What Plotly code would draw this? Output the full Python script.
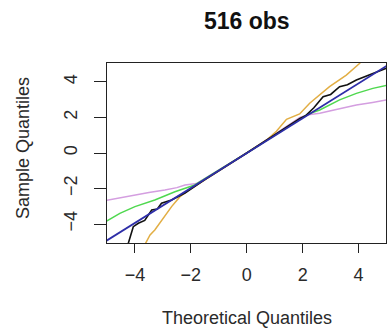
import plotly.graph_objects as go

# QQ-plot curves (theoretical, sample)
violet_x = [-5.2, -4.5, -4.0, -3.5, -2.93, -2.5, -2.21, -1.8, 0, 1.9, 2.2, 2.61, 3.2, 3.92, 4.5, 5.1]
violet_y = [-2.72, -2.5, -2.37, -2.22, -2.08, -1.95, -1.80, -1.72, 0, 2.0, 2.15, 2.24, 2.45, 2.70, 2.85, 3.02]

green_x = [-5.1, -4.54, -4.0, -3.29, -2.57, -1.86, 0, 2.2, 2.61, 3.32, 3.92, 4.51, 5.1]
green_y = [-3.92, -3.40, -3.02, -2.65, -2.18, -1.80, 0, 2.2, 2.42, 2.99, 3.36, 3.64, 3.85]

orange_x = [-3.66, -3.46, -3.29, -3.11, -2.87, -2.69, -2.39, -2.1, 0, 0.7, 1.06, 1.42, 1.89, 2.25, 2.96, 3.56, 4.04, 4.1]
orange_y = [-5.2, -4.62, -4.34, -3.96, -3.40, -3.02, -2.46, -2.12, 0, 0.72, 1.22, 1.9, 2.2, 2.80, 3.74, 4.39, 5.05, 5.2]

black_x = [-4.26, -4.06, -3.88, -3.65, -3.4, -3.2, -3.05, -2.69, -2.21, -1.5, 0, 1.5, 1.9, 2.1, 2.4, 2.73, 3.0, 3.32, 3.6, 3.92, 4.51, 5.0]
black_y = [-5.2, -4.15, -3.96, -3.80, -3.21, -3.15, -2.83, -2.65, -2.25, -1.5, 0, 1.5, 1.95, 2.1, 2.55, 3.17, 3.3, 3.74, 3.85, 4.11, 4.49, 4.78]

blue_x = [-5.2, 5.2]
blue_y = [-5.12, 5.1]

x_ticks = [-4, -2, 0, 2, 4]
y_ticks = [-4, -2, 0, 2, 4]

series = [
    (violet_x, violet_y, "#d49ee0", 1.5),
    (green_x, green_y, "#4fd84f", 1.5),
    (orange_x, orange_y, "#e2ae44", 1.5),
    (black_x, black_y, "#111111", 1.6),
    (blue_x, blue_y, "#2e2ea8", 1.8),
]

fig = go.Figure()
for xs, ys, col, w in series:
    fig.add_trace(go.Scatter(x=xs, y=ys, mode="lines",
                             line=dict(color=col, width=w), showlegend=False))

font = "Liberation Sans, Arial, sans-serif"
def lab(v):
    return ("−" if v < 0 else "") + str(abs(v))

fig.update_layout(
    width=387, height=332,
    margin=dict(l=107, r=1, t=63, b=89),
    paper_bgcolor="white", plot_bgcolor="white",
    font=dict(family=font, size=18, color="#2a2a2a"),
    xaxis=dict(range=[-5, 4.98], tickvals=x_ticks, ticktext=[lab(v) for v in x_ticks],
               ticks="outside", ticklen=9, tickcolor="#222", showgrid=False, zeroline=False,
               tickfont=dict(size=18),
               showline=True, mirror=True, linecolor="#222", linewidth=1, ticklabelstandoff=6),
    yaxis=dict(range=[-5.07, 5.07], tickvals=y_ticks, ticktext=[lab(v) for v in y_ticks],
               ticks="outside", ticklen=12, tickcolor="#222", showgrid=False, zeroline=False,
               tickangle=-90, tickfont=dict(size=18),
               showline=True, mirror=True, linecolor="#222", linewidth=1, ticklabelstandoff=10),
    annotations=[
        dict(text="<b>516 obs</b>", xref="paper", yref="paper", x=0.5, y=(243 - 21) / 180,
             showarrow=False, font=dict(size=23, color="#111", family=font), xanchor="center", yanchor="middle"),
        dict(text="Theoretical Quantiles", xref="paper", yref="paper", x=0.5, y=(243 - 318) / 180,
             showarrow=False, font=dict(size=18, color="#2a2a2a", family=font), xanchor="center", yanchor="middle"),
        dict(text="Sample Quantiles", xref="paper", yref="paper", x=(23 - 107) / 279, y=(243 - 148) / 180,
             showarrow=False, textangle=-90, font=dict(size=18, color="#2a2a2a", family=font),
             xanchor="center", yanchor="middle"),
    ],
)

fig.write_html("out.html")
